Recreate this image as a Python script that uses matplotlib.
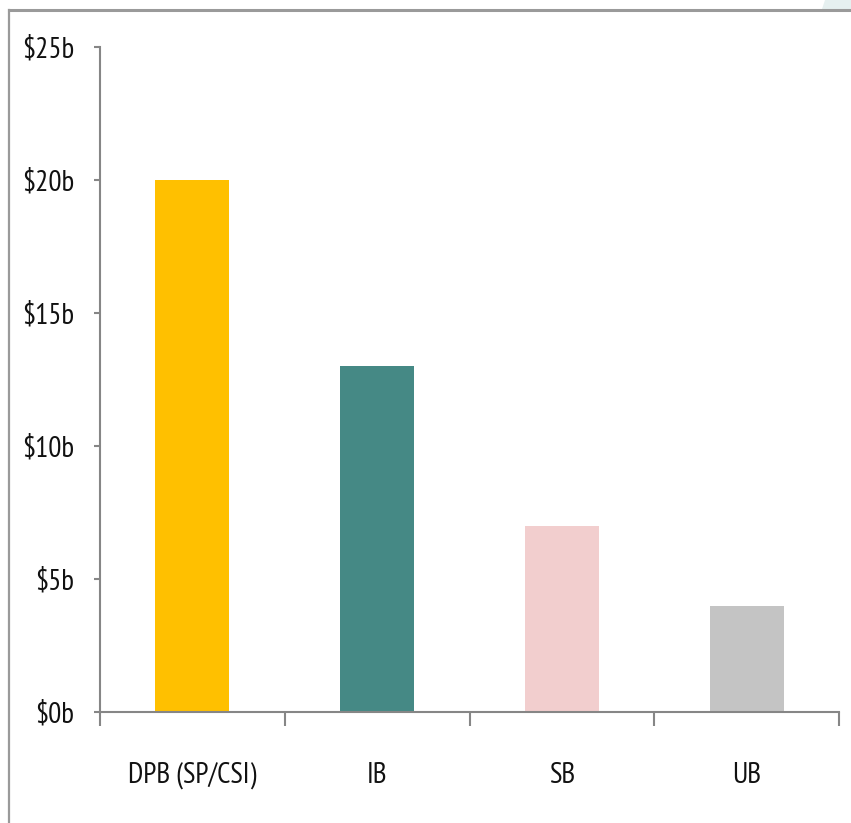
import matplotlib
matplotlib.use("Agg")
import matplotlib.pyplot as plt
from matplotlib.lines import Line2D
from matplotlib.patches import Polygon
from matplotlib.ticker import FixedLocator, NullFormatter

categories = ["DPB (SP/CSI)", "IB", "SB", "UB"]
values = [20, 13, 7, 4]
colors = ["#FFC000", "#458985", "#F2CECE", "#C4C4C4"]
yticks = [0, 5, 10, 15, 20, 25]
ytick_labels = ["$0b", "$5b", "$10b", "$15b", "$20b", "$25b"]

plt.rcParams['font.family'] = ['PT Sans Narrow', 'DejaVu Sans']

fig = plt.figure(figsize=(8.51, 8.23), dpi=100)
ax = fig.add_axes([100/851, 111/823, 739/851, 665/823])

x = list(range(len(categories)))
ax.bar(x, values, width=0.4, color=colors, zorder=2)
ax.set_xlim(-0.5, len(categories) - 0.5)
ax.set_ylim(0, 25)

ax.set_yticks(yticks)
ax.set_yticklabels(ytick_labels, fontsize=21, color='#111111')
ax.tick_params(axis='y', length=4.5, width=1.5, color='#868686', pad=14)

ax.set_xticks(x)
ax.set_xticklabels(categories, fontsize=21, color='#111111')
ax.tick_params(axis='x', which='major', length=0, pad=36)
ax.xaxis.set_minor_locator(FixedLocator([i - 0.5 for i in range(len(categories) + 1)]))
ax.xaxis.set_minor_formatter(NullFormatter())
ax.tick_params(axis='x', which='minor', length=10, width=1.5, color='#868686')

for s in ['top', 'right']:
    ax.spines[s].set_visible(False)
for s in ['left', 'bottom']:
    ax.spines[s].set_color('#868686')
    ax.spines[s].set_linewidth(1.5)
    ax.spines[s].set_zorder(3)

# outer frame lines
fig.add_artist(Line2D([9/851, 1.0], [1 - 10/823, 1 - 10/823], color='#9A9A9A', lw=2.2))
fig.add_artist(Line2D([9/851, 9/851], [0.0, 1 - 10/823], color='#9A9A9A', lw=1.6))
# faint decoration in top-right corner
fig.add_artist(Polygon([(825/851, 1.0), (851/851, 1.0), (851/851, 1 - 9/823), (822/851, 1 - 9/823)],
                       closed=True, facecolor='#E6F0F0', edgecolor='none', transform=fig.transFigure))

fig.savefig("out.png", dpi=100)
